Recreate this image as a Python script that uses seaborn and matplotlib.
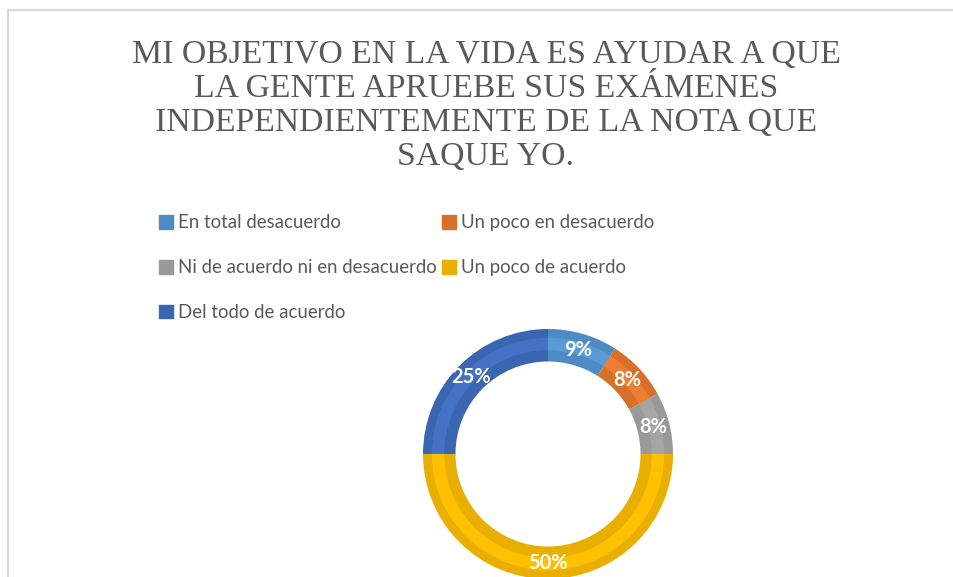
import matplotlib
matplotlib.use("Agg")
import matplotlib.pyplot as plt
import matplotlib.patches as mpatches
from matplotlib.lines import Line2D
import numpy as np
import seaborn as sns

# Survey answers and their shares (%)
categories = ['En total desacuerdo', 'Un poco en desacuerdo',
              'Ni de acuerdo ni en desacuerdo', 'Un poco de acuerdo',
              'Del todo de acuerdo']
shares = [9, 8, 8, 50, 25]
pct_labels = ['9%', '8%', '8%', '50%', '25%']

title = ('MI OBJETIVO EN LA VIDA ES AYUDAR A QUE\n'
         'LA GENTE APRUEBE SUS EXÁMENES\n'
         'INDEPENDIENTEMENTE DE LA NOTA QUE\n'
         'SAQUE YO.')

sns.set_theme(style="white")
edge_colors = ['#4E8AC4', '#D6702A', '#999999', '#E8AE00', '#3A65B0']
face_colors = sns.color_palette(['#5B9BD5', '#ED7D31', '#A5A5A5', '#FFC000', '#4472C4'])

W, H = 954, 577
fig = plt.figure(figsize=(W / 100, H / 100), dpi=100)
fig.patch.set_facecolor('white')

# chart border (only top and left visible)
fig.add_artist(Line2D([8.5 / W, 1.0], [1 - 10 / H] * 2, transform=fig.transFigure,
                      color='#D9D9D9', linewidth=1.5))
fig.add_artist(Line2D([8.5 / W] * 2, [0.0, 1 - 10 / H], transform=fig.transFigure,
                      color='#D9D9D9', linewidth=1.5))

# donut axes: center (548, 454) px, outer radius 125 px
cx, cy, r = 548, H - 454, 125
ax = fig.add_axes([(cx - r) / W, (cy - r) / H, 2 * r / W, 2 * r / H])

ax.pie(shares, colors=edge_colors, startangle=90, counterclock=False,
       radius=1.0, wedgeprops=dict(width=0.26, linewidth=0))
# lighter inner band
ax.pie(shares, colors=face_colors, startangle=90, counterclock=False,
       radius=0.93, wedgeprops=dict(width=0.10, linewidth=0))

# percentage labels
ang0 = 90.0
total = sum(shares)
for val, lab in zip(shares, pct_labels):
    mid = ang0 - 360.0 * val / total / 2
    ang0 -= 360.0 * val / total
    x = 0.87 * np.cos(np.radians(mid))
    y = 0.87 * np.sin(np.radians(mid))
    ax.text(x, y, lab, ha='center', va='center', color='white',
            fontsize=14.5, fontweight='bold', family='Lato')
ax.set_xlim(-1, 1)
ax.set_ylim(-1, 1)
ax.set_aspect('equal')
ax.axis('off')

# title
fig.text(486 / W, 1 - 40 / H, title, ha='center', va='top', fontsize=24.3,
         family='Liberation Serif', color='#595959', linespacing=1.14)

# legend (row-wise order as in the original)
order = [0, 2, 4, 1, 3]
handles = [mpatches.Patch(color=edge_colors[i]) for i in order]
labels = [categories[i] for i in order]
leg = fig.legend(handles, labels, ncol=2, loc='upper left',
                 bbox_to_anchor=(150 / W, 1 - 205 / H), frameon=False,
                 prop=dict(family='Lato', size=13.4),
                 handlelength=0.75, handleheight=0.75, handletextpad=0.25,
                 columnspacing=0.3, labelspacing=1.5, borderpad=0)
for t in leg.get_texts():
    t.set_color('#595959')

fig.savefig('out.png', dpi=100, facecolor='white')
